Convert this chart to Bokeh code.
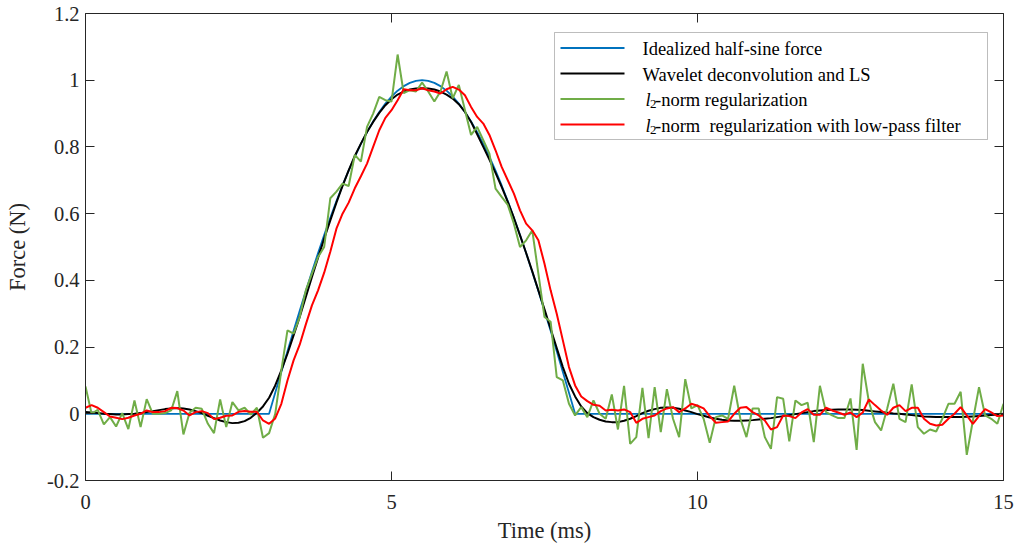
from bokeh.plotting import figure
from bokeh.models import LinearAxis, FixedTicker, CustomJSTickFormatter, Range1d, BoxAnnotation
from bokeh.core.properties import value
from bokeh.embed import file_html
from bokeh.resources import INLINE

# ---------------- data ----------------
time_ms = [round(0.1 * i, 1) for i in range(151)]

ideal_time = [0.0, 3.0, 3.1, 3.2, 3.3, 3.4, 3.5, 3.6, 3.7, 3.8, 3.9, 4.0, 4.1, 4.2, 4.3, 4.4,
              4.5, 4.6, 4.7, 4.8, 4.9, 5.0, 5.1, 5.2, 5.3, 5.4, 5.5, 5.6, 5.7, 5.8, 5.9, 6.0,
              6.1, 6.2, 6.3, 6.4, 6.5, 6.6, 6.7, 6.8, 6.9, 7.0, 7.1, 7.2, 7.3, 7.4, 7.5, 7.6,
              7.7, 7.8, 7.9, 8.0, 15.0]
ideal_force = [0.0, 0.0, 0.0628, 0.1253, 0.1874, 0.2487, 0.3090, 0.3681, 0.4258, 0.4818, 0.5358,
               0.5878, 0.6374, 0.6845, 0.7290, 0.7705, 0.8090, 0.8443, 0.8763, 0.9048, 0.9298,
               0.9511, 0.9686, 0.9823, 0.9921, 0.9980, 1.0, 0.9980, 0.9921, 0.9823, 0.9686,
               0.9511, 0.9298, 0.9048, 0.8763, 0.8443, 0.8090, 0.7705, 0.7290, 0.6845, 0.6374,
               0.5878, 0.5358, 0.4818, 0.4258, 0.3681, 0.3090, 0.2487, 0.1874, 0.1253, 0.0628,
               0.0, 0.0]

wavelet_ls = [
    0.005, 0.004, 0.002, 0.0, -0.001, -0.002, -0.002, -0.001, 0.0, 0.002,
    0.005, 0.008, 0.011, 0.014, 0.016, 0.017, 0.016, 0.013, 0.008, 0.002,
    -0.006, -0.013, -0.02, -0.025, -0.028, -0.027, -0.022, -0.012, 0.003, 0.022,
    0.048, 0.085, 0.13, 0.18, 0.235, 0.29, 0.35, 0.41, 0.468, 0.525,
    0.58, 0.633, 0.683, 0.73, 0.773, 0.81, 0.845, 0.875, 0.902, 0.925,
    0.943, 0.957, 0.966, 0.972, 0.975, 0.976, 0.975, 0.972, 0.966, 0.957,
    0.945, 0.928, 0.905, 0.875, 0.838, 0.80, 0.762, 0.722, 0.68, 0.635,
    0.587, 0.535, 0.482, 0.427, 0.37, 0.313, 0.255, 0.197, 0.14, 0.09,
    0.052, 0.022, 0.002, -0.01, -0.018, -0.023, -0.025, -0.025, -0.021, -0.015,
    -0.007, 0.002, 0.009, 0.014, 0.018, 0.019, 0.018, 0.015, 0.01, 0.005,
    -0.001, -0.006, -0.011, -0.015, -0.018, -0.02, -0.021, -0.021, -0.02, -0.019,
    -0.017, -0.015, -0.013, -0.01, -0.007, -0.004, -0.001, 0.002, 0.005, 0.008,
    0.01, 0.011, 0.012, 0.013, 0.013, 0.013, 0.012, 0.011, 0.009, 0.007,
    0.005, 0.003, 0.001, 0.0, -0.002, -0.004, -0.006, -0.008, -0.009, -0.01,
    -0.01, -0.01, -0.01, -0.01, -0.009, -0.008, -0.007, -0.005, -0.004, -0.002,
    0.0]

l2_norm = [
    0.082, 0.0, 0.012, -0.032, -0.01, -0.038, 0.002, -0.046, 0.04, -0.04,
    0.044, 0.0, 0.0, 0.002, 0.01, 0.068, -0.062, 0.003, 0.018, 0.015,
    -0.03, -0.058, 0.043, -0.04, 0.035, 0.01, 0.018, -0.002, 0.018, -0.072,
    -0.058, 0.0, 0.13, 0.25, 0.24, 0.29, 0.37, 0.42, 0.47, 0.50,
    0.646, 0.666, 0.69, 0.683, 0.776, 0.756, 0.86, 0.90, 0.95, 0.94,
    0.936, 1.077, 0.961, 0.97, 0.966, 0.993, 0.966, 0.936, 0.966, 1.026,
    0.946, 0.986, 0.911, 0.836, 0.86, 0.82, 0.78, 0.675, 0.65, 0.626,
    0.57, 0.50, 0.52, 0.55, 0.42, 0.29, 0.276, 0.11, 0.10, 0.03,
    -0.005, 0.02, -0.01, 0.04, 0.0, -0.015, 0.058, -0.047, 0.084, -0.09,
    -0.07, 0.078, -0.073, 0.08, -0.055, 0.074, -0.015, -0.07, 0.104, 0.016,
    0.026, -0.015, -0.087, -0.01, -0.005, -0.015, 0.084, -0.015, -0.07, 0.016,
    0.016, -0.07, -0.105, 0.05, 0.045, -0.083, 0.04, 0.026, 0.033, -0.085,
    0.084, 0.005, -0.005, -0.013, -0.013, 0.046, -0.108, 0.15, 0.036, -0.025,
    -0.05, 0.016, 0.09, -0.015, -0.025, 0.088, -0.04, -0.06, -0.047, -0.053,
    -0.015, 0.03, 0.03, 0.066, -0.123, -0.02, 0.08, -0.005, -0.015, -0.03,
    0.03]

l2_lowpass = [
    0.018, 0.026, 0.018, 0.005, -0.008, -0.012, -0.016, -0.012, -0.005, 0.0,
    0.01, 0.005, 0.005, 0.008, 0.018, 0.017, 0.01, -0.005, 0.005, 0.008,
    0.002, -0.016, -0.012, -0.006, -0.005, 0.006, 0.008, 0.006, 0.006, -0.02,
    -0.03, -0.014, 0.03, 0.10, 0.16, 0.207, 0.268, 0.325, 0.37, 0.423,
    0.486, 0.555, 0.60, 0.633, 0.676, 0.712, 0.75, 0.80, 0.85, 0.887,
    0.91, 0.94, 0.973, 0.97, 0.97, 0.976, 0.97, 0.966, 0.96, 0.973,
    0.98, 0.972, 0.955, 0.92, 0.89, 0.87, 0.836, 0.79, 0.74, 0.70,
    0.66, 0.61, 0.57, 0.55, 0.52, 0.45, 0.37, 0.30, 0.22, 0.14,
    0.085, 0.052, 0.038, 0.027, 0.024, 0.01, 0.012, 0.01, 0.013, 0.005,
    -0.027, -0.015, -0.01, -0.005, 0.008, 0.016, 0.02, 0.005, 0.016, 0.03,
    0.024, 0.016, -0.007, -0.027, -0.025, -0.023, 0.0, 0.018, 0.02, 0.005,
    -0.005, -0.02, -0.047, -0.04, -0.005, -0.007, -0.013, 0.004, 0.014, -0.003,
    -0.003, 0.018, 0.01, 0.004, -0.003, 0.004, -0.01, 0.004, 0.043, 0.026,
    0.01, -0.003, 0.018, 0.026, 0.008, 0.018, 0.018, -0.015, -0.03, -0.035,
    -0.033, -0.015, 0.0, 0.02, -0.005, -0.03, -0.007, 0.014, 0.004, -0.007,
    -0.005]

x_ticks = [0, 5, 10, 15]
y_ticks = [-0.2, 0, 0.2, 0.4, 0.6, 0.8, 1, 1.2]

series_labels = ["Idealized half-sine force", "Wavelet deconvolution and LS",
                 "-norm regularization", "-norm\u00a0 regularization with low-pass filter"]

# ---------------- style ----------------
FONT = "Liberation Serif"
AX = "#262626"
C_BLUE, C_BLACK, C_GREEN, C_RED = "#0072BD", "#000000", "#70AD47", "#FF0000"

W, H = 1025, 549
BL, BR, BT, BB = 85, 22, 13, 69
X0, X1, Y0, Y1 = 0, 15, -0.2, 1.2
FW, FH = W - BL - BR, H - BT - BB

p = figure(width=W, height=H, output_backend="svg", toolbar_location=None,
           x_range=Range1d(X0, X1), y_range=Range1d(Y0, Y1),
           min_border_left=BL, min_border_right=BR, min_border_top=BT, min_border_bottom=BB,
           x_axis_label="Time (ms)", y_axis_label="Force (N)")
p.outline_line_color = None
p.grid.visible = False
p.background_fill_color = "white"
p.border_fill_color = "white"

fmt = CustomJSTickFormatter(code="return (Math.round(tick*10)/10).toString();")


def style_axis(ax, ticks):
    ax.ticker = FixedTicker(ticks=ticks)
    ax.axis_line_color = AX
    ax.axis_line_width = 1
    ax.major_tick_line_color = AX
    ax.major_tick_line_width = 1
    ax.major_tick_in = 9
    ax.major_tick_out = 0
    ax.minor_tick_line_color = None
    ax.formatter = fmt
    ax.major_label_text_font = FONT
    ax.major_label_text_font_size = "20.5px"
    ax.major_label_text_color = AX
    ax.axis_label_text_font = FONT
    ax.axis_label_text_font_size = "22.5px"
    ax.axis_label_text_font_style = "normal"
    ax.axis_label_text_color = AX


def style_mirror_axis(ax, ticks):
    # box-style mirror axis: ticks drawn as unlabeled minor ticks
    ax.ticker = FixedTicker(ticks=[], minor_ticks=ticks)
    ax.axis_line_color = AX
    ax.axis_line_width = 1
    ax.major_tick_line_color = None
    ax.minor_tick_line_color = AX
    ax.minor_tick_line_width = 1
    ax.minor_tick_in = 9
    ax.minor_tick_out = 0
    ax.major_label_standoff = 0


style_axis(p.below[0], x_ticks)
style_axis(p.left[0], y_ticks)
p.below[0].major_label_standoff = 14
p.below[0].axis_label_standoff = 6
p.left[0].major_label_standoff = 6
p.left[0].axis_label_standoff = 14

top_ax = LinearAxis()
right_ax = LinearAxis()
style_mirror_axis(top_ax, x_ticks)
style_mirror_axis(right_ax, y_ticks)
p.add_layout(top_ax, "above")
p.add_layout(right_ax, "right")

# ---------------- data lines ----------------
p.line(ideal_time, ideal_force, line_color=C_BLUE, line_width=1.8)
p.line(time_ms, wavelet_ls, line_color=C_BLACK, line_width=2)
p.line(time_ms, l2_norm, line_color=C_GREEN, line_width=2)
p.line(time_ms, l2_lowpass, line_color=C_RED, line_width=2)


# ---------------- custom legend (pixel layout -> data coords) ----------------
def px2x(px):
    return X0 + (px - BL) / FW * (X1 - X0)


def py2y(py):
    return Y1 - (py - BT) / FH * (Y1 - Y0)


legend_box = BoxAnnotation(left=px2x(554), right=px2x(987), top=py2y(32), bottom=py2y(139),
                           fill_color="white", fill_alpha=1.0, line_color=AX, line_width=1,
                           level="annotation")
p.add_layout(legend_box)

row_y = [47.5, 73, 98.5, 124]
colors = [C_BLUE, C_BLACK, C_GREEN, C_RED]
for ry, c in zip(row_y, colors):
    r = p.line([px2x(560), px2x(624)], [py2y(ry), py2y(ry)], line_color=c, line_width=2)
    r.level = "overlay"

txt_kw = dict(text_font=value(FONT), text_font_size="18.5px", text_color="#000000",
              text_align="left", text_baseline="middle")
t1 = p.text(x=[px2x(642), px2x(642)], y=[py2y(row_y[0] + 1), py2y(row_y[1] + 1)],
            text=series_labels[:2], **txt_kw)
t1.level = "overlay"
tl = p.text(x=[px2x(645), px2x(645)], y=[py2y(row_y[2] + 1), py2y(row_y[3] + 1)],
            text=["l", "l"], text_font_style="italic", **txt_kw)
tl.level = "overlay"
sub_kw = dict(txt_kw)
sub_kw["text_font_size"] = "13px"
ts = p.text(x=[px2x(649.5), px2x(649.5)], y=[py2y(row_y[2] + 5), py2y(row_y[3] + 5)],
            text=["2", "2"], **sub_kw)
ts.level = "overlay"
tr = p.text(x=[px2x(654.5), px2x(654.5)], y=[py2y(row_y[2] + 1), py2y(row_y[3] + 1)],
            text=series_labels[2:], **txt_kw)
tr.level = "overlay"

open("out.html", "w").write(file_html(p, INLINE))
